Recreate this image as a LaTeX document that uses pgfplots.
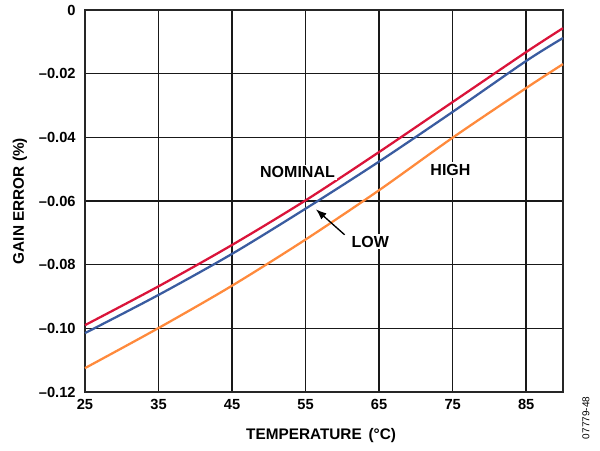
\documentclass[border=0pt]{standalone}
\usepackage{fontspec}
\setmainfont{Liberation Sans}
\usepackage{pgfplots}
\pgfplotsset{compat=1.18}
\usetikzlibrary{arrows.meta}
\definecolor{nomred}{RGB}{218,20,58}
\definecolor{lowblue}{RGB}{58,92,160}
\definecolor{highorange}{RGB}{255,138,60}

\begin{document}
\begin{tikzpicture}
\useasboundingbox (-63.75pt,-43.5pt) rectangle (386.25pt,294pt);
\begin{axis}[
  anchor=south west, at={(0,0)},
  scale only axis,
  width=358.5pt, height=286.5pt,
  xmin=25, xmax=90,
  ymin=-0.12, ymax=0,
  xtick={25,35,45,55,65,75,85},
  xticklabels={25,35,45,55,65,75,85},
  ytick={-0.12,-0.10,-0.08,-0.06,-0.04,-0.02,0},
  yticklabels={{--0.12},{--0.10},{--0.08},{--0.06},{--0.04},{--0.02},0},
  major tick length=0pt,
  grid=major,
  grid style={black!90, line width=1.1pt},
  axis line style={black!85, line width=1.5pt},
  tick label style={font=\fontsize{11}{13}\selectfont\bfseries},
  yticklabel style={xshift=-3.5pt},
  xticklabel style={yshift=-2pt},
  xlabel={TEMPERATURE \,(°C)},
  ylabel={GAIN ERROR (\%)},
  every axis x label/.style={at={(axis description cs:0.494,-0.115)}, anchor=center,
    font=\fontsize{11.5}{13}\selectfont\bfseries},
  every axis y label/.style={at={(axis description cs:-0.136,0.5)}, rotate=90, anchor=center,
    font=\fontsize{11.5}{13}\selectfont\bfseries},
  clip=false,
  every axis plot/.append style={line width=1.7pt, smooth}
]
  % NOMINAL
  \addplot[color=nomred] coordinates {
    (25,-0.0990)(35,-0.0868)(45,-0.0738)(55,-0.0598)
    (65,-0.0446)(75,-0.0289)(85,-0.0132)(90,-0.0057)};
  % LOW
  \addplot[color=lowblue] coordinates {
    (25,-0.1015)(35,-0.0895)(45,-0.0766)(55,-0.0624)
    (65,-0.0476)(75,-0.0320)(85,-0.0160)(90,-0.0088)};
  % HIGH
  \addplot[color=highorange] coordinates {
    (25,-0.1125)(35,-0.0999)(45,-0.0866)(55,-0.0721)
    (65,-0.0566)(75,-0.0401)(85,-0.0245)(90,-0.0170)};

  \node[font=\fontsize{12}{14}\selectfont\bfseries, fill=white, inner sep=1.5pt]
    at (axis cs:53.9,-0.0510) {NOMINAL};
  \node[font=\fontsize{12}{14}\selectfont\bfseries, fill=white, inner sep=1.5pt]
    at (axis cs:74.7,-0.0503) {HIGH};
  \node[font=\fontsize{12}{14}\selectfont\bfseries, fill=white, inner sep=1.5pt]
    at (axis cs:63.8,-0.0728) {LOW};
  \draw[-{Latex[length=8pt,width=6pt]}, line width=1pt, black]
    (axis cs:60.3,-0.0706) -- (axis cs:56.4,-0.0626);

  \node[font=\fontsize{7.5}{9}\selectfont, rotate=90] at (rel axis cs:1.048,-0.068) {07779-48};
\end{axis}
\end{tikzpicture}
\end{document}
